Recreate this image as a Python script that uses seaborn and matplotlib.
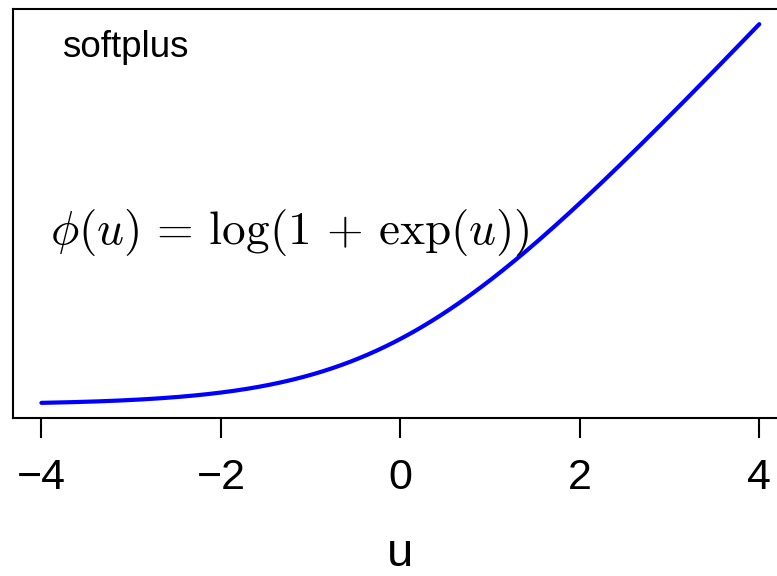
import numpy as np
import matplotlib
matplotlib.use("Agg")
import matplotlib.pyplot as plt
import seaborn as sns
import pandas as pd

# Grid of inputs and the softplus curve phi(u) = log(1 + exp(u))
u_min, u_max = -4.0, 4.0
u = np.linspace(u_min, u_max, 401)
phi = np.log1p(np.exp(u))

tick_values = [-4, -2, 0, 2, 4]
tick_labels = ["\u22124", "\u22122", "0", "2", "4"]
panel_title = "softplus"
formula = r"$\phi(u)\,=\,\log(1\,+\,\exp(u))$"
x_label = "u"

sns.set_theme(style="white")
plt.rcParams["font.family"] = ["Liberation Sans", "DejaVu Sans"]
plt.rcParams["mathtext.fontset"] = "cm"

W, H = 777, 576
fig = plt.figure(figsize=(W / 100, H / 100), dpi=100)
left, right, top, bottom = 12.7, 788.0, 9.0, 418.0
ax = fig.add_axes([left / W, 1 - bottom / H, (right - left) / W, (bottom - top) / H])

df = pd.DataFrame({"u": u, "phi": phi})
sns.lineplot(data=df, x="u", y="phi", ax=ax, color="#0000ff", linewidth=3.0,
             solid_capstyle="round")

pad_x = 0.04 * (u_max - u_min)
ax.set_xlim(u_min - pad_x, u_max + pad_x)
y_lo, y_hi = phi.min(), phi.max()
pad_y = 0.04 * (y_hi - y_lo)
ax.set_ylim(y_lo - pad_y, y_hi + pad_y)

for s in ax.spines.values():
    s.set_visible(True)
    s.set_color("black")
    s.set_linewidth(1.5)

ax.set_xticks(tick_values)
ax.set_xticklabels(tick_labels, fontsize=31, color="black")
ax.set_yticks([])
ax.tick_params(axis="x", direction="out", length=14.5, width=1.5, color="black",
               pad=14, bottom=True, labelcolor="black")
ax.set_xlabel(x_label, fontsize=34, color="black", va="bottom")
ax.xaxis.set_label_coords((left + right) / 2 / W, 0.5 / H, transform=fig.transFigure)
ax.set_ylabel("")

ax.text(62 / W, 1 - 57 / H, panel_title, transform=fig.transFigure,
        fontsize=26.5, ha="left", va="baseline", color="black")
ax.text(50 / W, 1 - 244 / H, formula, transform=fig.transFigure,
        fontsize=34, ha="left", va="baseline", color="black")

fig.savefig("out.png", dpi=100)
